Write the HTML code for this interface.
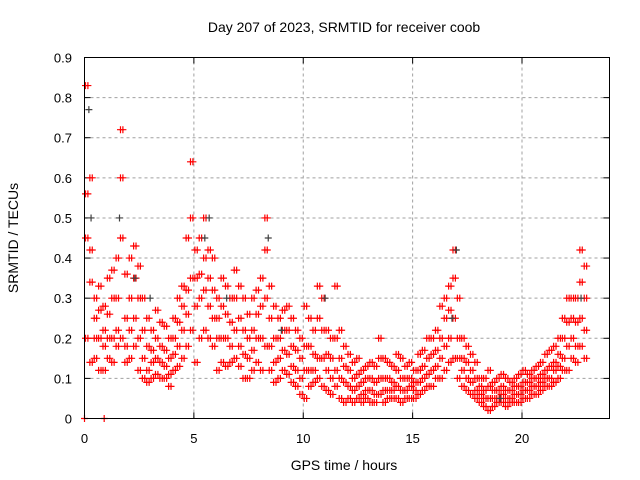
<!DOCTYPE html>
<html><head><meta charset="utf-8"><style>
html,body{margin:0;padding:0;background:#fff}
svg{display:block;font-family:"Liberation Sans",sans-serif}
</style></head><body>
<svg id="chart" width="640" height="480" viewBox="0 0 640 480">
<rect x="0" y="0" width="640" height="480" fill="#fff"/>
<text x="344" y="32" font-size="14" text-anchor="middle">Day 207 of 2023, SRMTID for receiver coob</text>
<text x="344" y="470" font-size="14" text-anchor="middle">GPS time / hours</text>
<text x="18" y="238" font-size="14" text-anchor="middle" transform="rotate(-90 18 238)">SRMTID / TECUs</text>
<g id="grid"></g><g id="ticks"></g><g id="marks"></g>
<rect x="84.5" y="57.5" width="525" height="361" fill="none" stroke="#000" stroke-width="1"/>
</svg>
<script>
const times=[0.1,0.3,0.5,0.7,0.9,1.1,1.3,1.5,1.7,1.9,2.1,2.3,2.5,2.7,2.9,3.1,3.3,3.5,3.7,3.9,4.1,4.3,4.5,4.7,4.9,5.1,5.3,5.5,5.7,5.9,6.1,6.3,6.5,6.7,6.9,7.1,7.3,7.5,7.7,7.9,8.1,8.3,8.5,8.7,8.9,9.1,9.3,9.5,9.7,9.9,10.1,10.3,10.5,10.7,10.9,11.1,11.3,11.5,11.7,11.9,12.1,12.3,12.5,12.7,12.9,13.1,13.3,13.5,13.7,13.9,14.1,14.3,14.5,14.7,14.9,15.1,15.3,15.5,15.7,15.9,16.1,16.3,16.5,16.7,16.9,17.1,17.3,17.5,17.7,17.9,18.1,18.3,18.5,18.7,18.9,19.1,19.3,19.5,19.7,19.9,20.1,20.3,20.5,20.7,20.9,21.1,21.3,21.5,21.7,21.9,22.1,22.3,22.5,22.7,22.9];
const hi=[.83,.6,.3,.33,.28,.35,.37,.4,.72,.36,.4,.43,.38,.3,.25,.22,.27,.24,.23,.2,.25,.3,.33,.45,.64,.42,.45,.5,.42,.4,.3,.35,.33,.3,.37,.33,.3,.26,.3,.32,.35,.5,.33,.28,.25,.27,.28,.25,.22,.2,.28,.25,.22,.33,.3,.22,.2,.33,.22,.18,.16,.14,.15,.12,.13,.14,.13,.2,.15,.14,.13,.16,.15,.13,.14,.12,.16,.17,.2,.2,.22,.28,.3,.33,.42,.3,.2,.18,.16,.14,.1,.1,.12,.09,.1,.11,.1,.09,.1,.11,.12,.11,.12,.13,.14,.16,.17,.18,.2,.25,.3,.3,.3,.42,.38];
const mid1=[.56,.42,.25,.27,.22,.26,.3,.3,.6,.25,.3,.35,.3,.22,.18,.17,.2,.18,.17,.15,.2,.24,.28,.32,.5,.35,.36,.4,.35,.32,.25,.28,.26,.24,.3,.25,.22,.2,.22,.26,.28,.42,.25,.2,.2,.22,.22,.18,.17,.15,.18,.18,.16,.25,.22,.16,.15,.2,.15,.13,.12,.1,.11,.09,.1,.1,.09,.15,.1,.1,.09,.12,.1,.1,.1,.09,.12,.13,.15,.16,.17,.2,.25,.27,.35,.2,.15,.14,.12,.1,.08,.07,.08,.07,.07,.08,.07,.07,.08,.08,.09,.09,.1,.1,.11,.12,.13,.14,.16,.2,.24,.25,.24,.34,.3];
const mid2=[.45,.34,.2,.2,.18,.2,.2,.22,.45,.18,.22,.25,.2,.15,.12,.14,.15,.14,.13,.11,.16,.18,.22,.26,.35,.28,.3,.32,.28,.25,.2,.2,.2,.18,.22,.18,.16,.15,.17,.2,.2,.3,.18,.14,.15,.17,.16,.13,.12,.1,.12,.12,.12,.15,.15,.12,.1,.12,.1,.09,.08,.07,.08,.06,.07,.07,.06,.1,.07,.07,.07,.08,.07,.07,.08,.07,.09,.1,.11,.12,.13,.15,.18,.2,.25,.15,.12,.1,.09,.07,.06,.05,.05,.05,.05,.06,.05,.05,.06,.06,.07,.07,.08,.08,.09,.1,.1,.12,.13,.15,.18,.2,.18,.25,.22];
const lo=[.2,.14,.15,.12,.12,.15,.14,.18,.2,.14,.15,.18,.12,.1,.09,.1,.11,.1,.1,.08,.12,.13,.15,.18,.22,.14,.2,.22,.2,.18,.12,.14,.13,.14,.15,.13,.1,.1,.12,.14,.12,.18,.12,.09,.1,.12,.11,.09,.08,.06,.05,.08,.09,.1,.08,.07,.06,.08,.05,.04,.05,.04,.05,.04,.05,.04,.04,.06,.04,.05,.05,.05,.04,.05,.05,.05,.06,.07,.08,.08,.1,.1,.12,.14,.15,.1,.08,.07,.06,.05,.04,.03,.02,.03,.04,.04,.03,.04,.04,.04,.05,.05,.06,.06,.07,.08,.08,.09,.1,.12,.12,.15,.14,.18,.15];
const grayTimes=[0.2,0.3,1.6,2.3,3.0,5.5,5.7,6.5,8.4,9.0,11.0,16.8,17.0,19.0,22.7];
const grayVals=[.77,.5,.5,.35,.3,.45,.5,.3,.45,.22,.3,.25,.42,.05,.3];
const zeroTimes=[0.0,0.9];
const zeroVals=[0,0];
const xTicks=[0,5,10,15,20];
const yTicks=[0,0.1,0.2,0.3,0.4,0.5,0.6,0.7,0.8,0.9];
const yLabels=["0","0.1","0.2","0.3","0.4","0.5","0.6","0.7","0.8","0.9"];

const X0=84.5,X1=609.5,Y0=418.5,Y1=57.5,XMAX=24,YMAX=0.9;
function xs(t){return X0+(X1-X0)*t/XMAX;}
function ys(v){return Y0-(Y0-Y1)*v/YMAX;}
const NS="http://www.w3.org/2000/svg";
const grid=document.getElementById('grid'),ticks=document.getElementById('ticks'),marks=document.getElementById('marks');
function mk(tag,attrs,parent){const e=document.createElementNS(NS,tag);for(const k in attrs)e.setAttribute(k,attrs[k]);parent.appendChild(e);return e;}
xTicks.forEach(t=>{
  const x=xs(t);
  if(t>0){const g=mk('line',{x1:x,x2:x,y1:Y0,y2:Y1,stroke:'#a0a0a0','stroke-dasharray':'3,3'},grid);
  
  }
  const l=mk('text',{x:x,y:443,'font-size':13,'text-anchor':'middle'},ticks);l.textContent=String(t);
  
  
  mk('line',{x1:x,x2:x,y1:Y0,y2:Y0-6,stroke:'#000'},ticks);
  mk('line',{x1:x,x2:x,y1:Y1,y2:Y1+6,stroke:'#000'},ticks);
});
yTicks.forEach((v,i)=>{
  const y=ys(v);
  if(v>0&&v<YMAX){const g=mk('line',{x1:X0,x2:X1,y1:y,y2:y,stroke:'#a0a0a0','stroke-dasharray':'3,3'},grid);
  
  }
  const l=mk('text',{x:72,y:y+5,'font-size':13,'text-anchor':'end'},ticks);l.textContent=yLabels[i];
  
  
  mk('line',{x1:X0,x2:X0+6,y1:y,y2:y,stroke:'#000'},ticks);
  mk('line',{x1:X1,x2:X1-6,y1:y,y2:y,stroke:'#000'},ticks);
});
function plus(t,v,color,name,dx){
  const x=xs(t)+dx,y=ys(v);
  const p=mk('path',{d:`M${x-3.5} ${y}H${x+3.5}M${x} ${y-3.5}V${y+3.5}`,stroke:color,'stroke-width':1.2,fill:'none'},marks);
  
  
}
// each value covers a 0.2 h bin; draw it at both halves of the bin
[hi,mid1,mid2,lo].forEach(arr=>{times.forEach((t,i)=>{plus(t,arr[i],'#ff0000','srmtid-point',-1.2);plus(t,arr[i],'#ff0000','srmtid-point',1.2);});});
grayTimes.forEach((t,i)=>plus(t,grayVals[i],'#404040','srmtid-point-alt',0));
zeroTimes.forEach((t,i)=>plus(t,zeroVals[i],'#ff0000','srmtid-zero-point',0));
</script>
</body></html>
